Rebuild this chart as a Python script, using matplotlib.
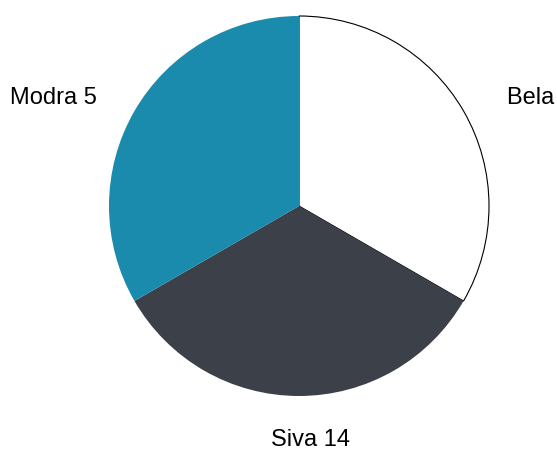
import matplotlib
matplotlib.use('Agg')
import matplotlib.pyplot as plt

# data
names = ['Bela', 'Siva', 'Modra']
counts = [14, 14, 5]
shares = [1, 1, 1]
colors = ['#ffffff', '#3c4049', '#1a8aad']

plt.rcParams['font.family'] = ['Liberation Sans', 'DejaVu Sans']

fig = plt.figure(figsize=(5.57, 4.5), dpi=100)
ax = fig.add_axes([0, 0, 1, 1])

wedges, _ = ax.pie(shares, colors=colors, startangle=90, counterclock=False,
                   radius=1, wedgeprops=dict(linewidth=0))
wedges[0].set_edgecolor('black')
wedges[0].set_linewidth(0.8)
wedges[0].set_zorder(0)

# pie() resets the limits, so set them afterwards
ax.set_xlim(-299 / 190, (557 - 299) / 190)
ax.set_ylim(-(450 - 206) / 190, 206 / 190)
ax.set_aspect('equal')
ax.axis('off')

labels = [f'{n} {c}' for n, c in zip(names, counts)]
ax.text(1.095, 0.568, labels[0], ha='left', va='center', fontsize=17)
ax.text(0.063, -1.232, labels[1], ha='center', va='center', fontsize=17)
ax.text(-1.063, 0.568, labels[2], ha='right', va='center', fontsize=17)

fig.savefig('out.png', dpi=100)
